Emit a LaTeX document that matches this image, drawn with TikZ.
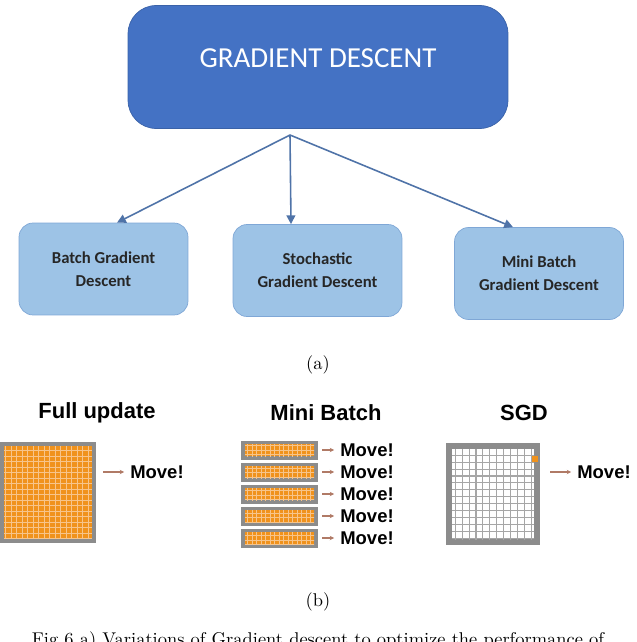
\documentclass[tikz,border=0pt]{standalone}
\usepackage{fontspec}
\setmainfont{Latin Modern Roman}
\newfontfamily\calib{Carlito}
\newfontfamily\arialb{Liberation Sans}[BoldFont={* Bold}]
\usetikzlibrary{arrows.meta}
\definecolor{gdblue}{HTML}{4472C4}
\definecolor{gdedge}{HTML}{3A62A8}
\definecolor{lblue}{HTML}{9DC3E6}
\definecolor{ledge}{HTML}{7FA7D6}
\definecolor{arr}{HTML}{4F73A8}
\definecolor{cellor}{HTML}{F0921C}
\definecolor{celline}{HTML}{F7C48A}
\definecolor{frame}{HTML}{8C8C8C}
\definecolor{movearr}{HTML}{B07A66}
\tikzset{
    top/.style={rectangle, rounded corners=16pt, draw=gdedge, fill=gdblue, minimum width=7.6cm, minimum height=2.46cm},
    sub/.style={rectangle, rounded corners=8pt, draw=ledge, fill=lblue, minimum width=3.38cm, minimum height=1.84cm,
        align=center, font=\calib\bfseries\fontsize{9.5}{13}\selectfont, text=black!85},
    link/.style={arr, line width=0.9pt, -{Triangle[length=5pt,width=5pt]}},
    head/.style={font=\arialb\bfseries\fontsize{12.5}{14}\selectfont},
    move/.style={font=\arialb\bfseries\fontsize{10.5}{12}\selectfont},
    marr/.style={movearr, line width=0.6pt, -{Stealth[length=2.5pt,width=2.5pt]}},
    captxt/.style={font=\fontsize{10.5}{12}\selectfont},
    gbox/.style={rectangle, fill=frame, inner sep=0pt}
}
\begin{document}
\begin{tikzpicture}[x=0.02cm, y=-0.02cm]
    \useasboundingbox (0,0) rectangle (636,642);
    \clip (0,0) rectangle (636,642);

    % top part (a)
    \node (gd) [top] at (318,67) {};
    \node (gdt) [text=white, font=\calib\fontsize{16.5}{20}\selectfont] at (318,58) {GRADIENT DESCENT};
    \coordinate (src) at (290,135);
    \node (bgd) [sub] at (103.5,269) {Batch Gradient\\Descent};
    \node (sgd) [sub] at (317.5,270.5) {Stochastic\\Gradient Descent};
    \node (mbgd) [sub] at (539,273.5) {Mini Batch\\Gradient Descent};
    \draw [link] (src) -- (bgd.north -| 117,0);
    \draw [link] (src) -- (sgd.north -| 291,0);
    \draw [link] (src) -- (mbgd.north -| 513,0);
    \node (capa) [captxt] at (318,365) {(a)};

    % bottom part (b)
    \node (t1) [head] at (97,413) {Full update};
    \node (t2) [head] at (326,413) {Mini Batch};
    \node (t3) [head] at (524,413) {SGD};

    % full update
    \node (full) [gbox, minimum width=1.92cm, minimum height=2.02cm] at (48,492.5) {};
    \fill[cellor] (4,446) rectangle (92,539);
    \begin{scope}
        \clip (4,446) rectangle (92,539);
        \draw[celline, line width=0.5pt, step=0.11cm] (4,446) grid (92,539);
    \end{scope}
    \node (m0) [move] at (157,472) {Move!};
    \coordinate (a0) at (103,472);
    \draw [marr] (a0) -- (m0);

    % mini batch strips
    \foreach \i/\y in {1/450,2/472,3/494,4/516,5/538}{
        \node (s\i) [gbox, minimum width=1.54cm, minimum height=0.38cm] at (279.5,\y) {};
        \fill[cellor] (245,\y-6) rectangle (314,\y+6);
        \begin{scope}
            \clip (245,\y-6) rectangle (314,\y+6);
            \draw[celline, line width=0.4pt, step=0.09cm] (240,\y-10) grid (320,\y+10);
        \end{scope}
        \node (mm\i) [move] at (367,\y) {Move!};
        \coordinate (b\i) at (322,\y);
        \draw [marr] (b\i) -- (mm\i.west);
    }

    % SGD
    \node (sg) [gbox, minimum width=1.88cm, minimum height=2.04cm] at (493,494) {};
    \fill[white] (452,449) rectangle (534,539);
    \begin{scope}
        \clip (452,449) rectangle (534,539);
        \draw[black!35, line width=0.6pt, step=0.138cm] (440,430) grid (540,545);
    \end{scope}
    \fill[cellor] (532,456) rectangle (538,462);
    \node (m3) [move] at (604,472) {Move!};
    \coordinate (a3) at (550,472);
    \draw [marr, line width=0.9pt] (a3) -- (m3.west);

    \node (capb) [captxt] at (318,602) {(b)};
    \node (fig) [captxt] at (318,641) {Fig 6 a) Variations of Gradient descent to optimize the performance of};
\end{tikzpicture}
\end{document}
